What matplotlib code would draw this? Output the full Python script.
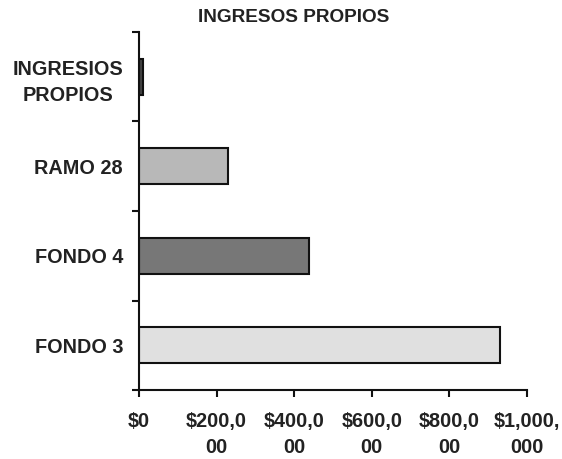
import numpy as np
import matplotlib
matplotlib.use("Agg")
import matplotlib.pyplot as plt
from matplotlib.ticker import FixedLocator

# data (bottom to top)
categories = ["FONDO 3", "FONDO 4", "RAMO 28", "INGRESIOS\nPROPIOS"]
values = [930000, 439000, 230000, 10000]
bar_colors = ["#e0e0e0", "#777777", "#b8b8b8", "#444444"]
x_ticks = [0, 200000, 400000, 600000, 800000, 1000000]
x_tick_labels = ["$0", "$200,0\n00", "$400,0\n00", "$600,0\n00", "$800,0\n00", "$1,000,\n000"]

plt.rcParams['font.family'] = ['Liberation Sans', 'DejaVu Sans']
txt_color = "#222222"

fig = plt.figure(figsize=(5.62, 4.59), dpi=100)
ax = fig.add_axes([139 / 562, (459 - 390) / 459, (527 - 139) / 562, (390 - 32) / 459])

y = np.arange(len(categories))
ax.barh(y, values, height=0.4, color=bar_colors, edgecolor="#111111", linewidth=1.5)

ax.set_xlim(0, 1000000)
ax.set_ylim(-0.5, len(categories) - 0.5)

ax.set_xticks(x_ticks)
ax.set_xticklabels(x_tick_labels, fontsize=14.3, fontweight="bold", color=txt_color,
                   linespacing=1.45)
ax.set_yticks(y)
ax.set_yticklabels(categories, fontsize=14.3, fontweight="bold", color=txt_color,
                   multialignment="center", linespacing=1.5)
ax.yaxis.set_minor_locator(FixedLocator(np.arange(-0.5, len(categories), 1.0)))

ax.tick_params(axis="x", direction="out", length=5, width=1.5, pad=11, color="#111111")
ax.tick_params(axis="y", which="major", length=0, pad=11.5)
ax.tick_params(axis="y", which="minor", direction="out", length=5, width=1.5, color="#111111")

for s in ["top", "right"]:
    ax.spines[s].set_visible(False)
for s in ["left", "bottom"]:
    ax.spines[s].set_linewidth(1.5)
    ax.spines[s].set_color("#111111")

fig.text(294 / 562, 1 - 17 / 459, "INGRESOS PROPIOS", ha="center", va="center",
         fontsize=13.7, fontweight="bold", color=txt_color)

fig.savefig("out.png", dpi=100)
